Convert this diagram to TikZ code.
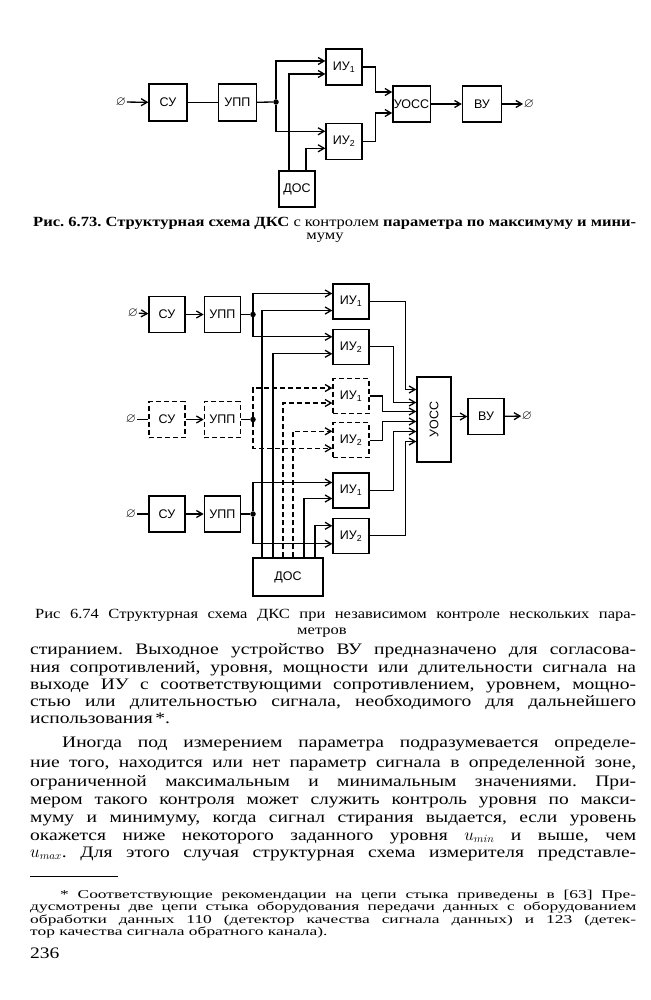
\documentclass[tikz,border=0pt]{standalone}
\usepackage{amssymb}
\usepackage{graphicx}
\usepackage{fontspec}
\setmainfont{Liberation Serif}
\newfontfamily\labelfont{Liberation Sans}
\newfontfamily\bodyfont[FakeStretch=1.22]{Liberation Serif}
\newfontfamily\notefont[FakeStretch=1.45]{Liberation Serif}
\newfontfamily\capfont[FakeStretch=1.18]{Liberation Serif}
\usetikzlibrary{arrows.meta,positioning}
\newcommand{\jline}[2]{\makebox[#1][s]{#2}}
\frenchspacing
\tikzset{
  blk/.style  ={draw, line width=1.3pt, minimum width=36pt,
                minimum height=36pt, inner sep=1pt,
                font=\labelfont\fontsize{12.5}{12.5}\selectfont},
  dblk/.style ={blk, dash pattern=on 5pt off 3pt},
  term/.style ={inner sep=0.5pt, font=\fontsize{13}{13}\selectfont},
  jdot/.style ={circle, fill, inner sep=0pt, minimum size=5.5pt},
  ln/.style   ={line width=1.3pt},
  arr/.style  ={-{Straight Barb[length=6pt,width=7pt]}, line width=1.3pt},
  darr/.style ={arr, dash pattern=on 5pt off 3pt},
  txt/.style  ={anchor=base west, inner sep=0pt,
                font=\bodyfont\fontsize{16}{18}\selectfont},
  note/.style ={anchor=base west, inner sep=0pt,
                font=\notefont\fontsize{12}{12}\selectfont},
  capt/.style ={anchor=base west, inner sep=0pt,
                font=\capfont\fontsize{14}{14}\selectfont},
}

\begin{document}
\begin{tikzpicture}[x=1pt,y=-1pt]
  \fill[white] (0,0) rectangle (650,1000);
  \useasboundingbox (0,0) rectangle (650,1000);
  % fig. 6.73
  \node[term] (in1) at (121,102) {$\varnothing$};
  \node[blk, minimum width=38pt, minimum height=37pt] (su1) at (168,102.5) {СУ};
  \node[blk, minimum width=38pt, minimum height=37pt, right=30pt of su1] (upp1) {УПП};
  \node[jdot] (jn1) at (276,102) {};
  \node[blk] (iu11) at (344,67) {ИУ\textsubscript{1}};
  \node[blk, below=37pt of iu11] (iu12) {ИУ\textsubscript{2}};
  \node[blk] (dos1) at (297,189) {ДОС};
  \node[blk, minimum width=37pt] (uocc1) at (411.5,104) {УОСС};
  \node[blk, minimum width=39pt, right=31pt of uocc1] (vu1) {ВУ};
  \node[term, right=21pt of vu1] (out1) {$\varnothing$};
  \draw[arr] (in1) -- (su1);
  \draw[ln] (su1) -- (upp1);
  \draw[ln] (upp1) -- (jn1);
  \draw[arr] (jn1) |- ([yshift=6pt]iu11.west);
  \draw[arr] (jn1) |- ([yshift=10pt]iu12.west);
  \draw[arr] ([xshift=-8pt]dos1.north) |- ([yshift=-7pt]iu11.west);
  \draw[arr] ([xshift=9pt]dos1.north) |- ([yshift=-7pt]iu12.west);
  \draw[arr] (iu11.east) -- ++(13,0) |- ([yshift=12pt]uocc1.west);
  \draw[arr] (iu12.east) -- ++(13,0) |- ([yshift=-9pt]uocc1.west);
  \draw[arr] (uocc1) -- (vu1);
  \draw[arr] (vu1) -- (out1);
  \node[capt] (cap1a) at (33,226) {\jline{603pt}{\bfseries Рис. 6.73. Структурная схема ДКС
    \mdseries с контролем \bfseries параметра по максимуму и мини-}};
  \node[capt, anchor=base] (cap1b) at (325,240) {муму};
  % fig. 6.74
  \node[term] (in21) at (133,313) {$\varnothing$};
  \node[blk] (su21) at (167,314.5) {СУ};
  \node[blk, right=18pt of su21] (upp21) {УПП};
  \node[jdot] (jn21) at (253,314.5) {};
  \node[term] (in22) at (131,419.5) {$\varnothing$};
  \node[dblk] (su22) at (167,419.5) {СУ};
  \node[dblk, right=18pt of su22] (upp22) {УПП};
  \node[jdot] (jn22) at (253,419.5) {};
  \node[term] (in23) at (131,514) {$\varnothing$};
  \node[blk] (su23) at (167,514) {СУ};
  \node[blk, right=18pt of su23] (upp23) {УПП};
  \node[jdot] (jn23) at (253,514) {};
  \node[blk, minimum height=35pt] (iu211) at (351,301.5) {ИУ\textsubscript{1}};
  \node[blk, minimum height=35pt, below=9pt of iu211] (iu212) {ИУ\textsubscript{2}};
  \node[dblk, minimum height=35pt] (iu221) at (351,396) {ИУ\textsubscript{1}};
  \node[dblk, minimum height=35pt, below=8pt of iu221] (iu222) {ИУ\textsubscript{2}};
  \node[blk, minimum height=35pt] (iu231) at (351,490.5) {ИУ\textsubscript{1}};
  \node[blk, minimum height=35pt, below=9pt of iu231] (iu232) {ИУ\textsubscript{2}};
  \node[blk, minimum width=70pt, minimum height=38pt] (dos2) at (288,577) {ДОС};
  \node[blk, minimum width=34pt, minimum height=85pt] (uocc2) at (434,419.5) {\rotatebox{90}{УОСС}};
  \node[blk] (vu2) at (486,416.5) {ВУ};
  \node[term] (out2) at (527,416) {$\varnothing$};
  \draw[arr] (in21) -- (su21);
  \draw[arr] (su21) -- (upp21);
  \draw[ln] (upp21) -- (jn21);
  \draw[arr] (jn21) |- ([yshift=8pt]iu211.west);
  \draw[arr] (jn21) |- ([yshift=10pt]iu212.west);
  \draw[ln] (in22) -- (su22);
  \draw[arr] (su22) -- (upp22);
  \draw[ln] (upp22) -- (jn22);
  \draw[darr] (jn22) |- ([yshift=8pt]iu221.west);
  \draw[darr] (jn22) |- ([yshift=-8pt]iu222.west);
  \draw[ln] (in23) -- (su23);
  \draw[arr] (su23) -- (upp23);
  \draw[ln] (upp23) -- (jn23);
  \draw[arr] (jn23) |- ([yshift=8pt]iu231.west);
  \draw[arr] (jn23) |- ([yshift=-8pt]iu232.west);
  \draw[arr] ([xshift=-26pt]dos2.north) |- ([yshift=-9pt]iu211.west);
  \draw[arr] ([xshift=-15pt]dos2.north) |- ([yshift=-7pt]iu212.west);
  \draw[darr] ([xshift=-5pt]dos2.north) |- ([yshift=-7pt]iu221.west);
  \draw[darr] ([xshift=5pt]dos2.north) |- ([yshift=9pt]iu222.west);
  \draw[arr] ([xshift=16pt]dos2.north) |- ([yshift=-8pt]iu231.west);
  \draw[arr] ([xshift=27pt]dos2.north) |- ([yshift=10pt]iu232.west);
  \draw[arr] (iu211.east) -- ++(36,0) |- ([yshift=30pt]uocc2.west);
  \draw[arr] (iu212.east) -- ++(24,0) |- ([yshift=17pt]uocc2.west);
  \draw[arr] (iu221.east) -- ++(13,0) |- ([yshift=8pt]uocc2.west);
  \draw[arr] (iu222.east) -- ++(13,0) |- ([yshift=-2pt]uocc2.west);
  \draw[arr] (iu231.east) -- ++(24,0) |- ([yshift=-12pt]uocc2.west);
  \draw[arr] (iu232.east) -- ++(36,0) |- ([yshift=-22pt]uocc2.west);
  \draw[arr] (uocc2.east |- vu2) -- (vu2);
  \draw[arr] (vu2) -- (out2);
  \node[capt] (cap2a) at (35,618) {\jline{601pt}{Рис 6.74 Структурная схема ДКС при независимом контроле нескольких пара-}};
  \node[capt, anchor=base] (cap2b) at (322,634) {метров};
  % text of the page
  \node[txt] (l1) at (30,654) {\jline{606pt}{стиранием. Выходное устройство ВУ предназначено для согласова-}};
  \node[txt] (l2) at (30,672) {\jline{606pt}{ния сопротивлений, уровня, мощности или длительности сигнала на}};
  \node[txt] (l3) at (30,689) {\jline{606pt}{выходе ИУ с соответствующими сопротивлением, уровнем, мощно-}};
  \node[txt] (l4) at (30,706) {\jline{606pt}{стью или длительностью сигнала, необходимого для дальнейшего}};
  \node[txt] (l5) at (30,723) {использования\,*.};
  \node[txt] (l6) at (62,747) {\jline{574pt}{Иногда под измерением параметра подразумевается определе-}};
  \node[txt] (l7) at (30,767) {\jline{606pt}{ние того, находится или нет параметр сигнала в определенной зоне,}};
  \node[txt] (l8) at (30,786) {\jline{606pt}{ограниченной максимальным и минимальным значениями. При-}};
  \node[txt] (l9) at (30,804) {\jline{606pt}{мером такого контроля может служить контроль уровня по макси-}};
  \node[txt] (l10) at (30,822) {\jline{606pt}{муму и минимуму, когда сигнал стирания выдается, если уровень}};
  \node[txt] (l11) at (30,840) {\jline{606pt}{окажется ниже некоторого заданного уровня $u_{min}$ и выше, чем}};
  \node[txt] (l12) at (30,857) {\jline{606pt}{$u_{max}$. Для этого случая структурная схема измерителя представле-}};
  \draw[line width=0.8pt] (30,876) -- (118,876);
  \node[note] (n1) at (60,898) {\jline{576pt}{* Соответствующие рекомендации на цепи стыка приведены в [63] Пре-}};
  \node[note] (n2) at (30,910.5) {\jline{606pt}{дусмотрены две цепи стыка оборудования передачи данных с оборудованием}};
  \node[note] (n3) at (30,923) {\jline{606pt}{обработки данных 110 (детектор качества сигнала данных) и 123 (детек-}};
  \node[note] (n4) at (30,935.5) {тор качества сигнала обратного канала).};
  \node[txt] (pg) at (30,958) {236};
\end{tikzpicture}
\end{document}
